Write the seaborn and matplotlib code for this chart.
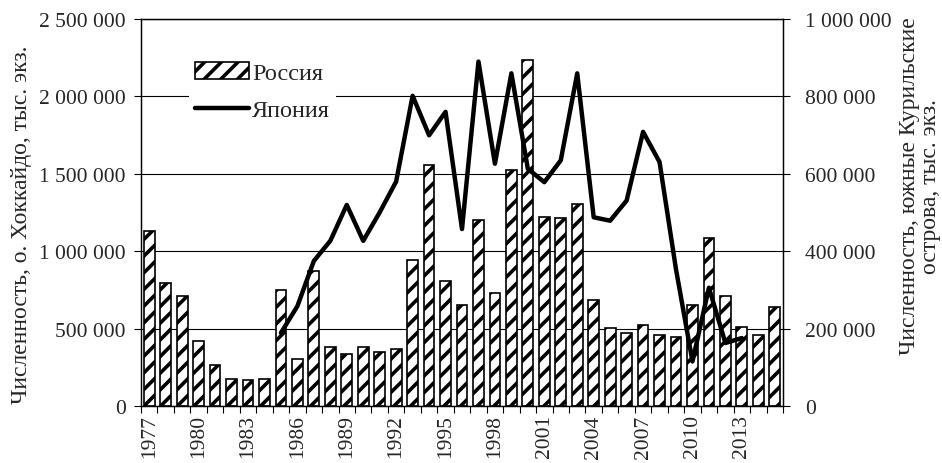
import numpy as np
import pandas as pd
import matplotlib
matplotlib.use("Agg")
import matplotlib.pyplot as plt
from matplotlib.ticker import FuncFormatter, MultipleLocator, FixedLocator
import seaborn as sns

# Russia (southern Kurils), right axis, bars
russia_years = list(range(1977, 2016))
russia_values = [453000, 318000, 284000, 167000, 106000, 70000, 66000, 70000,
                 301000, 121000, 349000, 153000, 135000, 153000, 140000, 148000,
                 378000, 624000, 322000, 261000, 480000, 293000, 610000, 893000,
                 489000, 485000, 523000, 275000, 201000, 188000, 210000, 183000,
                 178000, 261000, 435000, 285000, 204000, 183000, 257000]

# Japan (Hokkaido), left axis, line
japan_years = list(range(1985, 2014))
japan_values = [472000, 645000, 937000, 1067000, 1299000, 1067000, 1251000, 1450000,
                2004000, 1749000, 1900000, 1143000, 2225000, 1565000, 2149000, 1532000,
                1446000, 1587000, 2149000, 1219000, 1197000, 1327000, 1771000, 1576000,
                883000, 288000, 764000, 407000, 439000]

tick_years = list(range(1977, 2014, 3))

sns.set_theme(style="white")
plt.rcParams['font.family'] = ['Liberation Serif', 'DejaVu Serif']
plt.rcParams['hatch.linewidth'] = 2.6

fig = plt.figure(figsize=(9.42, 4.64), dpi=100)
ax = fig.add_axes([141 / 942, 1 - 407 / 464, 642 / 942, 387 / 464])
ax2 = ax.twinx()

df_r = pd.DataFrame({"year": russia_years, "value": russia_values})
df_j = pd.DataFrame({"year": japan_years, "value": japan_values})

sns.barplot(data=df_r, x="year", y="value", ax=ax2, native_scale=True,
            width=0.65, color="white", edgecolor="black", linewidth=1.2,
            hatch="//", label="Россия", zorder=2)
sns.lineplot(data=df_j, x="year", y="value", ax=ax, color="black",
             linewidth=3.2, label="Япония", zorder=3)

# left axis on top of bars
ax.set_zorder(ax2.get_zorder() + 1)
ax.patch.set_visible(False)

ax.set_ylim(0, 2500000)
ax2.set_ylim(0, 1000000)
ax.set_xlim(1976.5, 2015.5)
ax.yaxis.set_major_locator(MultipleLocator(500000))
ax2.yaxis.set_major_locator(MultipleLocator(200000))
fmt = FuncFormatter(lambda v, p: f"{v:,.0f}".replace(",", " "))
ax.yaxis.set_major_formatter(fmt)
ax2.yaxis.set_major_formatter(fmt)

ax2.grid(axis="y", color="black", linewidth=0.8, zorder=0)
ax2.set_axisbelow(True)
ax.grid(False)

ax.xaxis.set_major_locator(FixedLocator(tick_years))
ax.xaxis.set_minor_locator(FixedLocator(np.arange(1976.5, 2016, 1.0)))
ax.set_xticklabels([str(y) for y in tick_years], rotation=90)
ax.tick_params(axis="x", which="major", length=0, labelsize=15.5, pad=6)
ax.tick_params(axis="x", which="minor", length=5, width=0.8, color="black", bottom=True)
ax.tick_params(axis="y", length=5, width=0.8, color="black", left=True, labelsize=15.5, pad=6)
ax2.tick_params(axis="y", length=5, width=0.8, color="black", right=True, labelsize=15.5, pad=11)

for a in (ax, ax2):
    for s in a.spines.values():
        s.set_color("black")
        s.set_linewidth(0.9)

ax.set_xlabel("")
ax.set_ylabel("Численность, о. Хоккайдо, тыс. экз.", fontsize=17)
ax2.set_ylabel("Численность, южные Курильские\nострова, тыс. экз.", fontsize=17,
               rotation=90, linespacing=1.0)
ax.yaxis.set_label_coords(-0.17, 0.47)
ax2.yaxis.set_label_coords(1.18, 0.57)

h1, l1 = ax2.get_legend_handles_labels()
h2, l2 = ax.get_legend_handles_labels()
if ax2.get_legend() is not None:
    ax2.get_legend().remove()
leg = ax.legend(h1[:1] + h2, ["Россия", "Япония"], loc="upper left",
                bbox_to_anchor=(0.056, 0.935), fontsize=17.5, frameon=True,
                facecolor="white", edgecolor="none", framealpha=1,
                handlelength=2.2, handleheight=0.7, handletextpad=0.15,
                borderpad=0.25, labelspacing=0.62, fancybox=False)

fig.savefig("out.png", dpi=100)
